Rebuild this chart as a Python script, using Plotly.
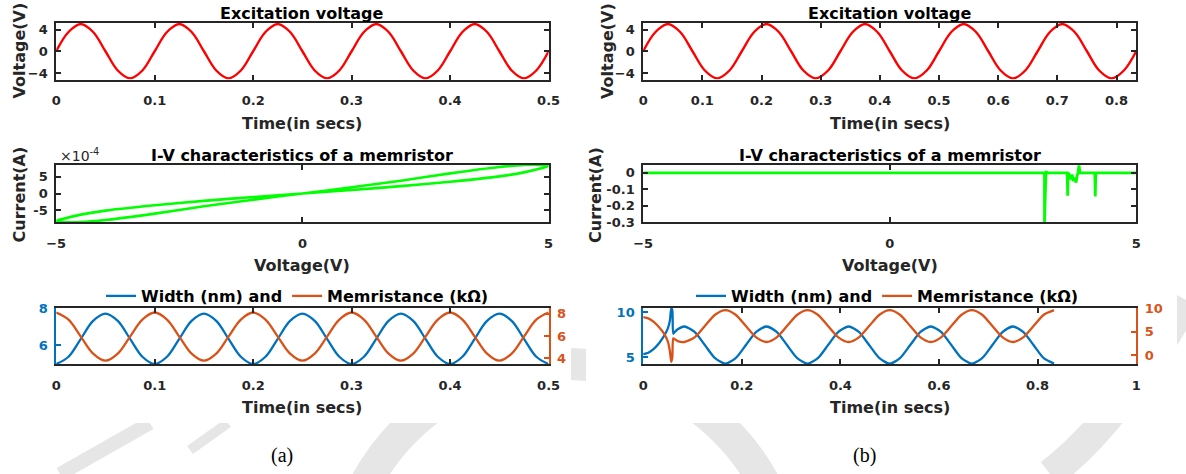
import plotly.graph_objects as go

# ---------------- data ----------------
# (a) 10 Hz excitation, sampled every 1/8 period
time_a = [0, 0.0125, 0.025, 0.0375, 0.05, 0.0625, 0.075, 0.0875,
          0.1, 0.1125, 0.125, 0.1375, 0.15, 0.1625, 0.175, 0.1875,
          0.2, 0.2125, 0.225, 0.2375, 0.25, 0.2625, 0.275, 0.2875,
          0.3, 0.3125, 0.325, 0.3375, 0.35, 0.3625, 0.375, 0.3875,
          0.4, 0.4125, 0.425, 0.4375, 0.45, 0.4625, 0.475, 0.4875, 0.5]
volt_a = [0, 3.54, 5, 3.54, 0, -3.54, -5, -3.54,
          0, 3.54, 5, 3.54, 0, -3.54, -5, -3.54,
          0, 3.54, 5, 3.54, 0, -3.54, -5, -3.54,
          0, 3.54, 5, 3.54, 0, -3.54, -5, -3.54,
          0, 3.54, 5, 3.54, 0, -3.54, -5, -3.54, 0]
width_a = [5, 5.39, 6.35, 7.31, 7.7, 7.31, 6.35, 5.39,
           5, 5.39, 6.35, 7.31, 7.7, 7.31, 6.35, 5.39,
           5, 5.39, 6.35, 7.31, 7.7, 7.31, 6.35, 5.39,
           5, 5.39, 6.35, 7.31, 7.7, 7.31, 6.35, 5.39,
           5, 5.39, 6.35, 7.31, 7.7, 7.31, 6.35, 5.39, 5]
memr_a = [8.1, 7.47, 5.95, 4.43, 3.8, 4.43, 5.95, 7.47,
          8.1, 7.47, 5.95, 4.43, 3.8, 4.43, 5.95, 7.47,
          8.1, 7.47, 5.95, 4.43, 3.8, 4.43, 5.95, 7.47,
          8.1, 7.47, 5.95, 4.43, 3.8, 4.43, 5.95, 7.47,
          8.1, 7.47, 5.95, 4.43, 3.8, 4.43, 5.95, 7.47, 8.1]

# pinched hysteresis loop of (a): voltage (V) and current (x1e-4 A)
iv_a_volt = [0, 1, 2, 3, 4, 4.5, 4.85, 5, 4.85, 4.5, 4, 3, 2, 1, 0,
             -1, -2, -3, -4, -4.5, -4.85, -5, -4.85, -4.5, -4, -3, -2, -1, 0]
iv_a_curr = [0, 1.05, 2.2, 3.5, 5.1, 6.3, 7.5, 8.2, 8.5, 8.5, 7.9, 6.0, 3.8, 1.85, 0,
             -1.85, -3.8, -6.0, -7.9, -8.5, -8.5, -8.2, -7.5, -6.3, -5.1, -3.5, -2.2, -1.05, 0]

# (b) 6 Hz excitation, sampled every 1/8 period
time_b = [0, 0.0208, 0.0417, 0.0625, 0.0833, 0.1042, 0.125, 0.1458,
          0.1667, 0.1875, 0.2083, 0.2292, 0.25, 0.2708, 0.2917, 0.3125,
          0.3333, 0.3542, 0.375, 0.3958, 0.4167, 0.4375, 0.4583, 0.4792,
          0.5, 0.5208, 0.5417, 0.5625, 0.5833, 0.6042, 0.625, 0.6458,
          0.6667, 0.6875, 0.7083, 0.7292, 0.75, 0.7708, 0.7917, 0.8125, 0.8333]
volt_b = [0, 3.54, 5, 3.54, 0, -3.54, -5, -3.54,
          0, 3.54, 5, 3.54, 0, -3.54, -5, -3.54,
          0, 3.54, 5, 3.54, 0, -3.54, -5, -3.54,
          0, 3.54, 5, 3.54, 0, -3.54, -5, -3.54,
          0, 3.54, 5, 3.54, 0, -3.54, -5, -3.54, 0]

# I-V trace of (b): flat near zero with switching spikes
iv_b_volt = [-5, 3.14, 3.14, 3.17, 3.19, 3.60, 3.61, 3.62, 3.66, 3.68, 3.70,
             3.72, 3.75, 3.78, 3.80, 3.82, 3.84, 3.86, 4.16, 4.17, 4.18, 5]
iv_b_curr = [0, 0, -0.3, 0.01, 0, 0, -0.14, 0, -0.02, -0.04, -0.01,
             -0.05, -0.03, -0.06, -0.02, 0, 0.045, 0, 0, -0.145, 0, 0]

# width / memristance of (b), with the switching transient near 0.057 s
time_wm_b = [0, 0.0104, 0.0208, 0.0313, 0.0417, 0.05, 0.054, 0.057, 0.059, 0.061, 0.064, 0.07, 0.0833,
             0.1042, 0.125, 0.1458, 0.1667, 0.1875, 0.2083, 0.2292, 0.25,
             0.2708, 0.2917, 0.3125, 0.3333, 0.3542, 0.375, 0.3958, 0.4167,
             0.4375, 0.4583, 0.4792, 0.5, 0.5208, 0.5417, 0.5625, 0.5833,
             0.6042, 0.625, 0.6458, 0.6667, 0.6875, 0.7083, 0.7292, 0.75,
             0.7708, 0.7917, 0.8125, 0.8333]
width_b = [5.35, 5.5, 5.9, 6.5, 7.3, 8.2, 9.0, 10.4, 10.2, 7.6, 7.8, 8.1, 8.4,
           7.8, 6.35, 4.9, 4.3, 4.9, 6.35, 7.8, 8.4,
           7.8, 6.35, 4.9, 4.3, 4.9, 6.35, 7.8, 8.4,
           7.8, 6.35, 4.9, 4.3, 4.9, 6.35, 7.8, 8.4,
           7.8, 6.35, 4.9, 4.3, 4.9, 6.35, 7.8, 8.4,
           7.8, 6.35, 4.9, 4.3]
memr_b = [8.2, 7.9, 7.2, 6.1, 4.7, 2.9, 0.9, -1.5, -0.6, 3.6, 3.4, 3.0, 2.8,
          3.8, 6.25, 8.7, 9.7, 8.7, 6.25, 3.8, 2.8,
          3.8, 6.25, 8.7, 9.7, 8.7, 6.25, 3.8, 2.8,
          3.8, 6.25, 8.7, 9.7, 8.7, 6.25, 3.8, 2.8,
          3.8, 6.25, 8.7, 9.7, 8.7, 6.25, 3.8, 2.8,
          3.8, 6.25, 8.7, 9.7]

time_ticks_a = [0, 0.1, 0.2, 0.3, 0.4, 0.5]
time_ticks_b = [0, 0.1, 0.2, 0.3, 0.4, 0.5, 0.6, 0.7, 0.8]
time_ticks_b2 = [0, 0.2, 0.4, 0.6, 0.8, 1]

# ---------------- styling ----------------
W, H = 1186, 474
FONT = "DejaVu Sans"
DARK = "#262626"
RED, GREEN = "#ff0000", "#00ff00"
BLUE, ORANGE = "#0072bd", "#d95319"
MARK = "#e6e6e6"   # light page watermark


def fy(y):
    return 1 - y / H


COL_A = [56.2 / W, 548.6 / W]
COL_B = [643.2 / W, 1136.2 / W]
ROW1 = [fy(79.5), fy(23)]
ROW2 = [fy(222), fy(165)]
ROW3 = [fy(364), fy(308)]


def tfont(color=DARK):
    return dict(family=FONT, size=13, color=color, weight="bold")


def xaxis(domain, anchor, rng, tickvals, ticktext=None):
    d = dict(domain=domain, anchor=anchor, range=rng, tickvals=tickvals, automargin=False,
             showline=True, linecolor=DARK, linewidth=1.8, mirror="ticks",
             ticks="inside", ticklen=5, tickwidth=1.5, tickcolor=DARK,
             showgrid=False, zeroline=False, tickfont=tfont(), ticklabelstandoff=8)
    if ticktext is not None:
        d["ticktext"] = ticktext
    return d


def yaxis(domain, anchor, rng, tickvals, ticktext=None, color=DARK,
          mirror="ticks", side="left", overlaying=None):
    d = dict(domain=domain, anchor=anchor, range=rng, tickvals=tickvals, automargin=False,
             showline=True, linecolor=color, linewidth=1.8, mirror=mirror,
             ticks="inside", ticklen=5, tickwidth=1.5, tickcolor=color,
             showgrid=False, zeroline=False, tickfont=tfont(color), side=side,
             ticklabelstandoff=4)
    if ticktext is not None:
        d["ticktext"] = ticktext
    if overlaying:
        d["overlaying"] = overlaying
    return d


fig = go.Figure()

# row 1: excitation voltage
fig.add_trace(go.Scatter(x=time_a, y=volt_a, xaxis="x", yaxis="y", mode="lines",
                         line=dict(color=RED, width=2.4, shape="spline"), showlegend=False))
fig.add_trace(go.Scatter(x=time_b, y=volt_b, xaxis="x2", yaxis="y2", mode="lines",
                         line=dict(color=RED, width=2.4, shape="spline"), showlegend=False))

# row 2: I-V characteristics
fig.add_trace(go.Scatter(x=iv_a_volt, y=[c * 1e-4 for c in iv_a_curr], xaxis="x3", yaxis="y3",
                         mode="lines", line=dict(color=GREEN, width=2.6, shape="spline", smoothing=0.8),
                         showlegend=False))
fig.add_trace(go.Scatter(x=iv_b_volt, y=iv_b_curr, xaxis="x4", yaxis="y4", mode="lines",
                         line=dict(color=GREEN, width=2.8), showlegend=False))

# row 3: width and memristance
fig.add_trace(go.Scatter(x=time_a, y=width_a, xaxis="x5", yaxis="y5", mode="lines",
                         name="Width (nm) and", legend="legend",
                         line=dict(color=BLUE, width=2.3, shape="spline")))
fig.add_trace(go.Scatter(x=time_a, y=memr_a, xaxis="x5", yaxis="y6", mode="lines",
                         name="Memristance (kΩ)", legend="legend",
                         line=dict(color=ORANGE, width=2.3, shape="spline")))
fig.add_trace(go.Scatter(x=time_wm_b, y=width_b, xaxis="x6", yaxis="y7", mode="lines",
                         name="Width (nm) and", legend="legend2",
                         line=dict(color=BLUE, width=2.3, shape="spline", smoothing=0.7)))
fig.add_trace(go.Scatter(x=time_wm_b, y=memr_b, xaxis="x6", yaxis="y8", mode="lines",
                         name="Memristance (kΩ)", legend="legend2",
                         line=dict(color=ORANGE, width=2.3, shape="spline", smoothing=0.7)))

legend_style = dict(orientation="h", yanchor="middle", xanchor="left",
                    font=dict(family=FONT, size=16, color="black", weight="bold"),
                    bgcolor="rgba(0,0,0,0)", itemwidth=30, traceorder="normal")

# faint page watermark behind the two figure panels
shapes = [
    dict(type="circle", xref="paper", yref="paper", layer="below",
         x0=(565 - 226) / W, x1=(565 + 226) / W, y0=fy(590 + 226), y1=fy(590 - 226),
         line=dict(color=MARK, width=32), fillcolor="rgba(0,0,0,0)"),
    dict(type="path", xref="paper", yref="paper", layer="below",
         path=f"M {60/W},{fy(474)} Q {120/W},{fy(440)} {150/W},{fy(423)}",
         line=dict(color=MARK, width=14)),
    dict(type="path", xref="paper", yref="paper", layer="below",
         path=f"M {190/W},{fy(450)} L {228/W},{fy(423)}",
         line=dict(color=MARK, width=10)),
    dict(type="path", xref="paper", yref="paper", layer="below",
         path=f"M {1050/W},{fy(474)} Q {1120/W},{fy(420)} {1186/W},{fy(300)}",
         line=dict(color=MARK, width=30)),
    # white figure panels cover the watermark
    dict(type="rect", xref="paper", yref="paper", layer="below",
         x0=0, x1=571 / W, y0=fy(423), y1=1, line=dict(width=0), fillcolor="white"),
    dict(type="rect", xref="paper", yref="paper", layer="below",
         x0=586 / W, x1=1177 / W, y0=fy(423), y1=1, line=dict(width=0), fillcolor="white"),
]

fig.update_layout(
    width=W, height=H, margin=dict(l=0, r=0, t=0, b=0, autoexpand=False),
    paper_bgcolor="white", plot_bgcolor="rgba(0,0,0,0)",
    shapes=shapes,
    xaxis=xaxis(COL_A, "y", [0, 0.5], time_ticks_a),
    yaxis=yaxis(ROW1, "x", [-5.2, 5.2], [-4, 0, 4]),
    xaxis2=xaxis(COL_B, "y2", [0, 0.8333], time_ticks_b),
    yaxis2=yaxis(ROW1, "x2", [-5.2, 5.2], [-4, 0, 4]),
    xaxis3=xaxis(COL_A, "y3", [-5, 5], [-5, 0, 5]),
    yaxis3=yaxis(ROW2, "x3", [-8.5e-4, 8.5e-4], [-5e-4, 0, 5e-4], ["-5", "0", "5"]),
    xaxis4=xaxis(COL_B, "y4", [-5, 5], [-5, 0, 5]),
    yaxis4=yaxis(ROW2, "x4", [-0.3, 0.0475], [-0.3, -0.2, -0.1, 0], ["-0.3", "-0.2", "-0.1", "0"]),
    xaxis5=xaxis(COL_A, "y5", [0, 0.5], time_ticks_a),
    yaxis5=yaxis(ROW3, "x5", [5, 8], [6, 8], color=BLUE, mirror=False),
    yaxis6=yaxis(ROW3, "x5", [3.5, 8.5], [4, 6, 8], color=ORANGE, mirror=False,
                 side="right", overlaying="y5"),
    xaxis6=xaxis(COL_B, "y7", [0, 1], time_ticks_b2, ["0", "0.2", "0.4", "0.6", "0.8", "1"]),
    yaxis7=yaxis(ROW3, "x6", [4.26, 10.44], [5, 10], color=BLUE, mirror=False),
    yaxis8=yaxis(ROW3, "x6", [-1.96, 10.15], [0, 5, 10], color=ORANGE, mirror=False,
                 side="right", overlaying="y7"),
    legend=dict(legend_style, x=101 / W, y=fy(296)),
    legend2=dict(legend_style, x=691 / W, y=fy(296)),
)

CA = (56.2 + 548.6) / 2
CB = (643.2 + 1136.2) / 2


def label(text, x, y, size=16, angle=0, weight="bold", family=FONT, color="black", xanchor="center"):
    fig.add_annotation(text=text, x=x / W, y=fy(y), xref="paper", yref="paper",
                       showarrow=False, textangle=angle, xanchor=xanchor, yanchor="middle",
                       font=dict(family=family, size=size, color=color, weight=weight))


# titles
label("Excitation voltage", CA, 13)
label("Excitation voltage", CB, 13)
label("I-V characteristics of a memristor", CA, 155)
label("I-V characteristics of a memristor", CB, 155)
# axis titles
label("Time(in secs)", CA, 123.5, color=DARK)
label("Time(in secs)", CB, 123.5, color=DARK)
label("Voltage(V)", CA, 265, color=DARK)
label("Voltage(V)", CB, 265, color=DARK)
label("Time(in secs)", CA, 407, color=DARK)
label("Time(in secs)", CB, 407, color=DARK)
label("Voltage(V)", 18.5, 51, angle=-90, color=DARK)
label("Voltage(V)", 607, 51, angle=-90, color=DARK)
label("Current(A)", 18.5, 195, angle=-90, color=DARK)
label("Current(A)", 595, 195, angle=-90, color=DARK)
# exponent of the current axis
label("×10<sup>-4</sup>", 58, 155, size=14, weight="normal", color=DARK, xanchor="left")
# panel captions
label("(a)", 282, 455, size=20, weight="normal", family="Liberation Serif")
label("(b)", 864, 455, size=20, weight="normal", family="Liberation Serif")

fig.write_html("out.html")
